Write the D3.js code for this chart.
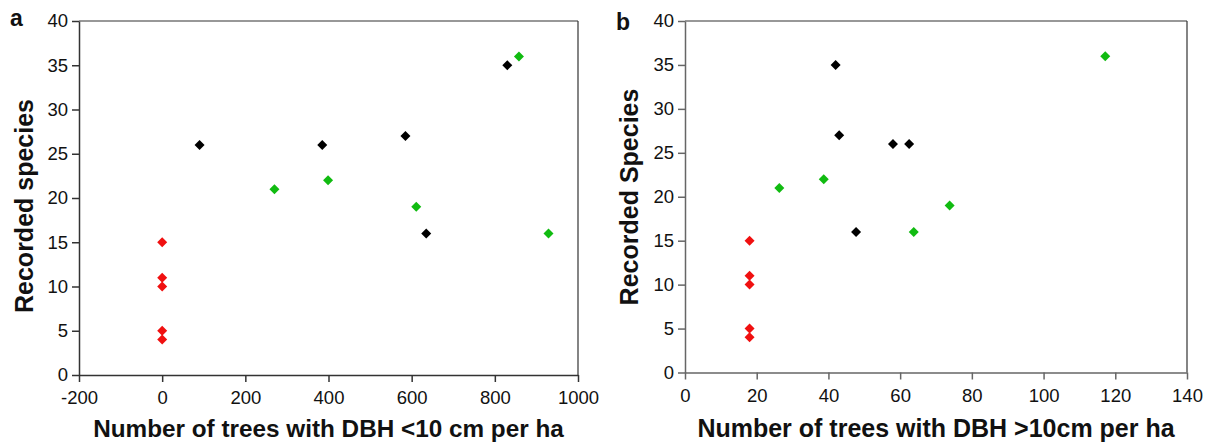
<!DOCTYPE html>
<html><head><meta charset="utf-8">
<script src="https://cdn.jsdelivr.net/npm/d3@7"></script>
<style>body{margin:0;background:#fff}svg{display:block}</style>
</head><body>
<svg id="c" width="1211" height="443"></svg>
<script>
// Panel a: trees with DBH <10 cm per ha
const aRedX = [0, 0, 0, 0, 0];
const aRedY = [15, 11, 10, 5, 4];
const aBlackX = [90, 385, 585, 635, 830];
const aBlackY = [26, 26, 27, 16, 35];
const aGreenX = [270, 399, 611, 858, 929];
const aGreenY = [21, 22, 19, 36, 16];
// Panel b: trees with DBH >10 cm per ha
const bRedX = [18, 18, 18, 18, 18];
const bRedY = [15, 11, 10, 5, 4];
const bBlackX = [42, 43, 58, 62.5, 47.7];
const bBlackY = [35, 27, 26, 26, 16];
const bGreenX = [26.3, 38.7, 63.8, 73.8, 117.2];
const bGreenY = [21, 22, 16, 19, 36];

const aXTicks = [-200, 0, 200, 400, 600, 800, 1000];
const bXTicks = [0, 20, 40, 60, 80, 100, 120, 140];
const yTicks = [0, 5, 10, 15, 20, 25, 30, 35, 40];

const colors = {red: "#f01010", black: "#000000", green: "#11bb11"};

const svg = d3.select("#c");
const font = "Liberation Sans, Arial, sans-serif";

function panel(cfg) {
  const x = d3.scaleLinear().domain(cfg.xDomain).range([cfg.left, cfg.right]);
  const y = d3.scaleLinear().domain([0, 40]).range([cfg.bottom, cfg.top]);
  const g = svg.append("g");
  g.append("line").attr("x1", cfg.left).attr("x2", cfg.right).attr("y1", cfg.top).attr("y2", cfg.top)
    .attr("stroke", "#333").attr("stroke-width", 1.2);
  g.append("line").attr("x1", cfg.right).attr("x2", cfg.right).attr("y1", cfg.top).attr("y2", cfg.bottom)
    .attr("stroke", "#333").attr("stroke-width", 1.2);
  const xa = g.append("g").attr("transform", `translate(0,${cfg.bottom})`)
    .call(d3.axisBottom(x).tickValues(cfg.xTicks).tickSize(7).tickSizeOuter(0).tickPadding(9).tickFormat(d3.format("d")));
  const ya = g.append("g").attr("transform", `translate(${cfg.left},0)`)
    .call(d3.axisLeft(y).tickValues(yTicks).tickSize(7).tickSizeOuter(0).tickPadding(4));
  [xa, ya].forEach(a => {
    a.selectAll("path,line").attr("stroke", cfg.axisColor).attr("stroke-width", 1.5);
    a.selectAll("text").attr("font-family", font).attr("font-size", 18.5).attr("fill", "#111");
  });
  xa.selectAll("text").text(d => d < 0 ? "-" + Math.abs(d) : d);
  const sym = d3.symbol().type(d3.symbolSquare).size(50);
  cfg.series.forEach(s => {
    g.selectAll(null).data(s.xs.map((v, i) => [v, s.ys[i]])).enter().append("path")
      .attr("d", sym)
      .attr("transform", d => `translate(${x(d[0])},${y(d[1])}) rotate(45)`)
      .attr("fill", s.color);
  });
  g.append("text").attr("x", (cfg.left + cfg.right) / 2).attr("y", 437)
    .attr("text-anchor", "middle").attr("font-family", font).attr("font-weight", "bold")
    .attr("font-size", cfg.xTitleSize).attr("fill", "#111").text(cfg.xTitle);
  g.append("text").attr("transform", `translate(${cfg.yTitleX},${cfg.yTitleY}) rotate(-90)`)
    .attr("text-anchor", "middle").attr("font-family", font).attr("font-weight", "bold")
    .attr("font-size", 25).attr("fill", "#111").text(cfg.yTitle);
  g.append("text").attr("x", cfg.labelX).attr("y", cfg.labelY).attr("font-family", font).attr("font-weight", "bold")
    .attr("font-size", 23).attr("fill", "#111").text(cfg.label);
}

panel({
  left: 79, right: 578, top: 21, bottom: 375, xDomain: [-200, 1000], xTicks: aXTicks,
  axisColor: "#333", xTitle: "Number of trees with DBH <10 cm per ha", xTitleSize: 24.3,
  yTitle: "Recorded species", yTitleX: 33, yTitleY: 206, label: "a", labelX: 10, labelY: 26,
  series: [
    {xs: aRedX, ys: aRedY, color: colors.red},
    {xs: aBlackX, ys: aBlackY, color: colors.black},
    {xs: aGreenX, ys: aGreenY, color: colors.green}
  ]
});
panel({
  left: 685, right: 1187, top: 21, bottom: 372.5, xDomain: [0, 140], xTicks: bXTicks,
  axisColor: "#666", xTitle: "Number of trees with DBH >10cm per ha", xTitleSize: 25,
  yTitle: "Recorded Species", yTitleX: 638, yTitleY: 197, label: "b", labelX: 616, labelY: 30,
  series: [
    {xs: bRedX, ys: bRedY, color: colors.red},
    {xs: bBlackX, ys: bBlackY, color: colors.black},
    {xs: bGreenX, ys: bGreenY, color: colors.green}
  ]
});
</script>
</body></html>
